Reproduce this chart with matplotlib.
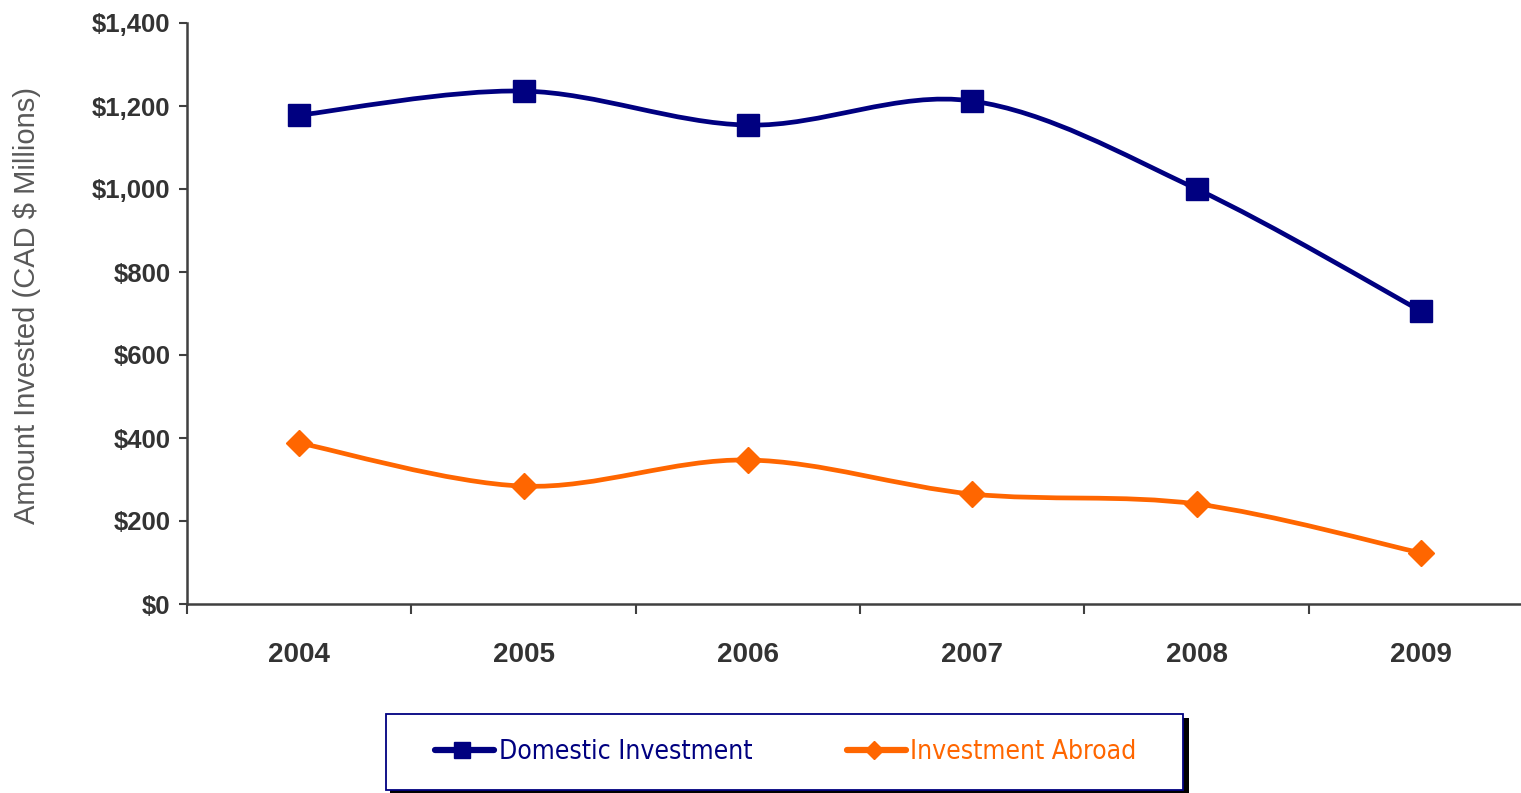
import numpy as np
import matplotlib
matplotlib.use("Agg")
from matplotlib import pyplot as plt
from matplotlib.path import Path
from matplotlib.patches import PathPatch, Rectangle
from matplotlib.lines import Line2D

years = ["2004", "2005", "2006", "2007", "2008", "2009"]
domestic = [1178, 1236, 1154, 1212, 1000, 706]
abroad = [388, 284, 347, 265, 241, 123]

NAVY = "#000080"
ORANGE = "#FF6600"
AXIS = "#404040"

plt.rcParams['font.family'] = ['Liberation Sans', 'DejaVu Sans']

fig = plt.figure(figsize=(15.21, 7.93), dpi=100)
ax = fig.add_axes([187 / 1521, 1 - 604 / 793, 1 - 187 / 1521, (604 - 23) / 793])


def smooth_path(xs, ys):
    # Excel-style smoothed line: cubic bezier segments with catmull-rom handles
    pts = np.column_stack([xs, ys]).astype(float)
    verts = [pts[0]]
    codes = [Path.MOVETO]
    n = len(pts)
    for i in range(n - 1):
        p0 = pts[i - 1] if i > 0 else pts[i]
        p1 = pts[i]
        p2 = pts[i + 1]
        p3 = pts[i + 2] if i + 2 < n else pts[i + 1]
        c1 = p1 + (p2 - p0) / 6
        c2 = p2 - (p3 - p1) / 6
        verts += [c1, c2, p2]
        codes += [Path.CURVE4] * 3
    return Path(verts, codes)


x = np.arange(len(years))
for vals, col, mk, ms in [(domestic, NAVY, "s", 16), (abroad, ORANGE, "D", 13)]:
    ax.add_patch(PathPatch(smooth_path(x, vals), facecolor="none", edgecolor=col,
                           lw=3.4, capstyle="round", joinstyle="round", zorder=3))
    ax.plot(x, vals, ls="none", marker=mk, ms=ms, color=col, zorder=4)

ax.set_yticks(range(0, 1401, 200))
ax.set_yticklabels([f"${v:,}" for v in range(0, 1401, 200)],
                   fontsize=18.5, fontweight="bold", color="#333333")
ax.set_xticks(x)
ax.set_xticklabels(years, fontsize=20, fontweight="bold", color="#333333")
ax.set_xticks(np.arange(-0.5, 5.0, 1), minor=True)
ax.set_xlim(-0.5, 5.446)
ax.set_ylim(0, 1400)
ax.tick_params(axis="x", which="major", length=0, pad=27)
ax.tick_params(axis="x", which="minor", length=7, width=1.5, color=AXIS, direction="out")
ax.tick_params(axis="y", length=6, width=1.5, color=AXIS, pad=6)
for s in ["top", "right"]:
    ax.spines[s].set_visible(False)
for s in ["left", "bottom"]:
    ax.spines[s].set_color(AXIS)
    ax.spines[s].set_linewidth(1.8)

fx = lambda p: p / 1521
fy = lambda p: 1 - p / 793

fig.text(fx(27), fy(305), "Amount Invested (CAD $ Millions)", fontsize=21, color="#595959",
         rotation=90, ha="center", va="center")

# legend box with shadow
fig.patches.append(Rectangle((fx(390), fy(793)), fx(1189) - fx(390), fy(718) - fy(793),
                             transform=fig.transFigure, facecolor="black", edgecolor="none", zorder=1))
fig.patches.append(Rectangle((fx(386), fy(790)), fx(1183) - fx(386), fy(714) - fy(790),
                             transform=fig.transFigure, facecolor="white", edgecolor=NAVY, lw=1.3, zorder=2))
fig.add_artist(Line2D([fx(435), fx(494)], [fy(750)] * 2, color=NAVY, lw=4.5,
                      solid_capstyle="round", transform=fig.transFigure, zorder=5))
fig.add_artist(Line2D([fx(462)], [fy(750)], marker="s", ms=11, color=NAVY,
                      transform=fig.transFigure, zorder=6))
fig.text(fx(499), fy(752), "Domestic Investment", color=NAVY, fontsize=19,
         family=["DejaVu Sans"], fontstretch="condensed", va="center", ha="left", zorder=6)
fig.add_artist(Line2D([fx(847), fx(906)], [fy(750)] * 2, color=ORANGE, lw=4.5,
                      solid_capstyle="round", transform=fig.transFigure, zorder=5))
fig.add_artist(Line2D([fx(874)], [fy(750)], marker="D", ms=9, color=ORANGE,
                      transform=fig.transFigure, zorder=6))
fig.text(fx(910), fy(752), "Investment Abroad", color=ORANGE, fontsize=19,
         family=["DejaVu Sans"], fontstretch="condensed", va="center", ha="left", zorder=6)

fig.savefig("out.png", dpi=100)
